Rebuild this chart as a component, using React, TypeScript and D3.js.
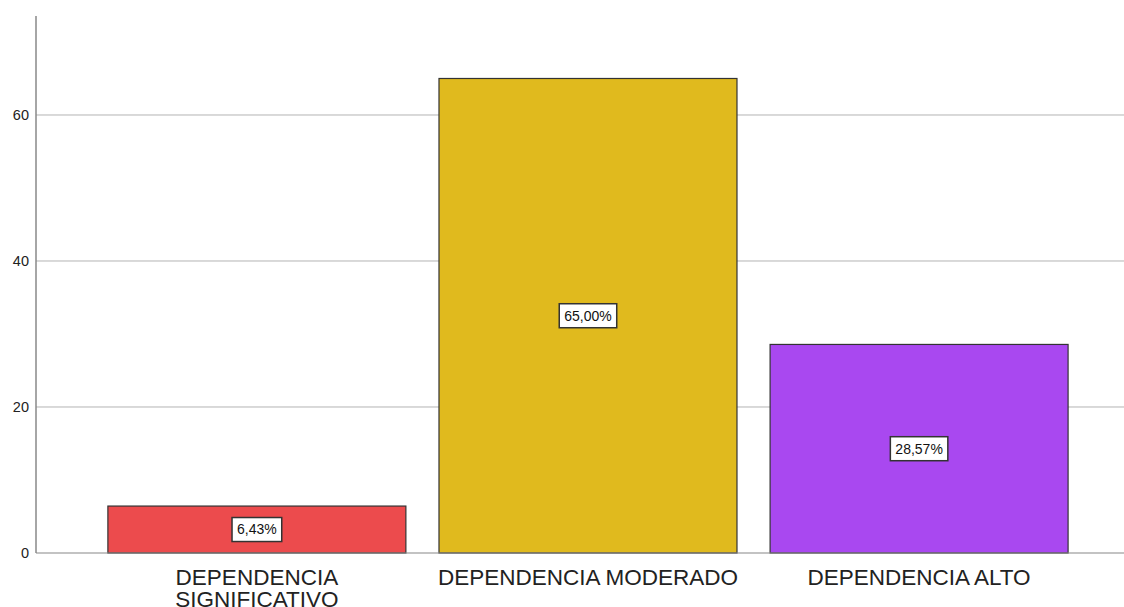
import React, { useEffect, useRef } from "react";
import * as d3 from "d3";

const categories = ["DEPENDENCIA SIGNIFICATIVO", "DEPENDENCIA MODERADO", "DEPENDENCIA ALTO"];
const labelLines = [["DEPENDENCIA", "SIGNIFICATIVO"], ["DEPENDENCIA MODERADO"], ["DEPENDENCIA ALTO"]];
const values = [6.43, 65.0, 28.57];
const valueLabels = ["6,43%", "65,00%", "28,57%"];
const colors = ["#ec4b4d", "#e0ba1e", "#a948f0"];
const yTicks = [0, 20, 40, 60];

const App = () => {
  const ref = useRef<SVGSVGElement>(null);

  useEffect(() => {
    const svg = d3.select(ref.current);
    svg.selectAll("*").remove();

    const width = 1124;
    const height = 607;
    const left = 36, right = 1124, top = 16, bottom = 553;
    const font = "'Liberation Sans', Arial, sans-serif";

    const x = d3.scaleBand<string>()
      .domain(categories)
      .range([left, right])
      .paddingInner(0.1)
      .paddingOuter(0.193)
      .align(0.5625);

    const y = d3.scaleLinear().domain([0, 73.56]).range([bottom, top]);

    // gridlines
    svg.append("g")
      .selectAll("line")
      .data(yTicks.filter(t => t > 0))
      .join("line")
      .attr("x1", left)
      .attr("x2", right)
      .attr("y1", d => y(d))
      .attr("y2", d => y(d))
      .attr("stroke", "#b4b4b4")
      .attr("stroke-width", 1);

    // tick labels
    svg.append("g")
      .selectAll("text")
      .data(yTicks)
      .join("text")
      .attr("x", 29)
      .attr("y", d => y(d))
      .attr("dy", "0.35em")
      .attr("text-anchor", "end")
      .style("font-family", font)
      .style("font-size", "14.5px")
      .attr("fill", "#222")
      .text(d => d);

    // bars
    svg.append("g")
      .selectAll("rect")
      .data(values)
      .join("rect")
      .attr("x", (d, i) => x(categories[i])!)
      .attr("y", d => y(d))
      .attr("width", x.bandwidth())
      .attr("height", d => bottom - y(d))
      .attr("fill", (d, i) => colors[i])
      .attr("stroke", "#333")
      .attr("stroke-width", 1.2);

    // axes lines
    svg.append("line")
      .attr("x1", left).attr("x2", right)
      .attr("y1", bottom).attr("y2", bottom)
      .attr("stroke", "#888").attr("stroke-width", 1.2);
    svg.append("line")
      .attr("x1", left).attr("x2", left)
      .attr("y1", top).attr("y2", bottom)
      .attr("stroke", "#888").attr("stroke-width", 1.5);

    // value labels in boxes
    const lbl = svg.append("g")
      .selectAll("g")
      .data(values)
      .join("g")
      .attr("transform", (d, i) =>
        `translate(${x(categories[i])! + x.bandwidth() / 2},${(y(d) + bottom) / 2})`);

    lbl.append("text")
      .attr("text-anchor", "middle")
      .attr("dy", "0.35em")
      .style("font-family", font)
      .style("font-size", "14px")
      .attr("fill", "#111")
      .text((d, i) => valueLabels[i])
      .each(function () {
        const bb = (this as SVGTextElement).getBBox();
        d3.select((this as SVGTextElement).parentNode as SVGGElement)
          .insert("rect", "text")
          .attr("x", bb.x - 5)
          .attr("y", -12)
          .attr("width", bb.width + 10)
          .attr("height", 24)
          .attr("fill", "white")
          .attr("stroke", "#333")
          .attr("stroke-width", 1.5);
      });

    // category labels
    const cat = svg.append("g")
      .selectAll("text")
      .data(categories)
      .join("text")
      .attr("x", d => x(d)! + x.bandwidth() / 2)
      .attr("y", 585)
      .attr("text-anchor", "middle")
      .style("font-family", font)
      .style("font-size", "22.5px")
      .attr("fill", "#222");

    cat.each(function (d, i) {
      const t = d3.select(this);
      labelLines[i].forEach((line, j) => {
        t.append("tspan")
          .attr("x", x(d)! + x.bandwidth() / 2)
          .attr("dy", j === 0 ? 0 : 22)
          .text(line);
      });
    });

    svg.attr("width", width).attr("height", height);
  }, []);

  return (
    <svg
      ref={ref}
      width={1124}
      height={607}
      style={{ position: "absolute", left: 0, top: 0, background: "white" }}
    />
  );
};

export default App;
